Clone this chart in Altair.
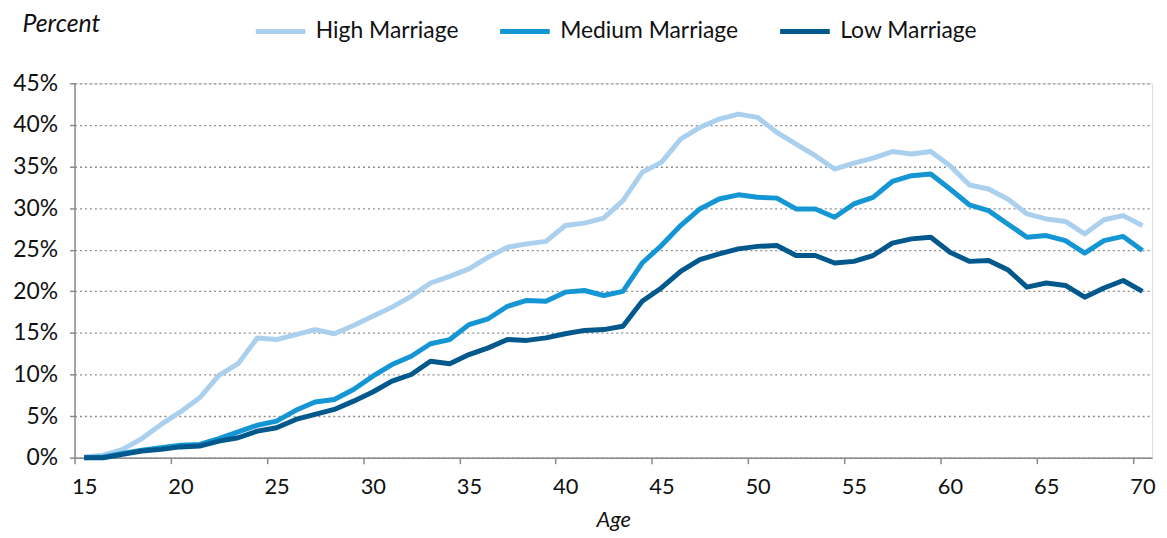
import altair as alt
import pandas as pd

ages = list(range(15, 71))
series_names = ["High Marriage", "Medium Marriage", "Low Marriage"]
series_colors = ["#abd0ee", "#1596d4", "#00588c"]

high = [0.1, 0.3, 1.0, 2.3, 4.0, 5.5, 7.2, 9.9, 11.3, 14.4,
        14.2, 14.8, 15.4, 14.9, 15.9, 17.0, 18.1, 19.4, 21.0, 21.8,
        22.7, 24.1, 25.3, 25.7, 26.0, 27.9, 28.2, 28.8, 30.9, 34.3,
        35.5, 38.3, 39.7, 40.7, 41.3, 40.9, 39.1, 37.7, 36.3, 34.7,
        35.4, 36.0, 36.8, 36.5, 36.8, 35.1, 32.8, 32.3, 31.1, 29.3,
        28.7, 28.4, 26.9, 28.6, 29.1, 27.9]
medium = [0.0, 0.1, 0.5, 0.9, 1.2, 1.5, 1.6, 2.3, 3.1, 3.9,
          4.4, 5.7, 6.7, 7.0, 8.2, 9.8, 11.2, 12.2, 13.7, 14.2,
          16.0, 16.7, 18.2, 18.9, 18.8, 19.9, 20.1, 19.5, 20.0, 23.4,
          25.5, 27.9, 29.9, 31.1, 31.6, 31.3, 31.2, 29.9, 29.9, 28.9,
          30.5, 31.3, 33.2, 33.9, 34.1, 32.3, 30.4, 29.7, 28.1, 26.5,
          26.7, 26.1, 24.6, 26.1, 26.6, 24.9]
low = [0.0, 0.0, 0.4, 0.8, 1.0, 1.3, 1.4, 2.0, 2.4, 3.2,
       3.6, 4.6, 5.2, 5.8, 6.8, 7.9, 9.2, 10.0, 11.6, 11.3,
       12.4, 13.2, 14.2, 14.1, 14.4, 14.9, 15.3, 15.4, 15.8, 18.8,
       20.4, 22.4, 23.8, 24.5, 25.1, 25.4, 25.5, 24.3, 24.3, 23.4,
       23.6, 24.3, 25.8, 26.3, 26.5, 24.7, 23.6, 23.7, 22.6, 20.5,
       21.0, 20.7, 19.3, 20.4, 21.3, 20.0]

x_tick_values = [14.5, 19.5, 24.5, 29.5, 34.5, 39.5, 44.5, 49.5, 54.5, 59.5, 64.5, 69.5]
y_tick_values = [0, 5, 10, 15, 20, 25, 30, 35, 40, 45]

rows = []
for name, vals in zip(series_names, [high, medium, low]):
    for a, v in zip(ages, vals):
        rows.append({"Age": a, "Value": v, "Series": name})
df = pd.DataFrame(rows)

W = 1085
H = 377
FONT = "Lato"
AXIS_GRAY = "#8a8a8a"
TXT = "#111111"

color = alt.Color(
    "Series:N",
    scale=alt.Scale(domain=series_names, range=series_colors),
    legend=alt.Legend(
        title=None,
        orient="none",
        direction="horizontal",
        legendX=180,
        legendY=-80,
        symbolType="stroke",
        symbolSize=2500,
        symbolStrokeWidth=5,
        labelFont=FONT,
        labelFontSize=23,
        labelColor=TXT,
        labelOffset=8,
        labelLimit=400,
        columnPadding=31,
    ),
)

x = alt.X(
    "Age:Q",
    scale=alt.Scale(domain=[14.5, 70.5], nice=False, zero=False),
    axis=alt.Axis(
        values=x_tick_values,
        labelExpr="format(datum.value + 0.5, 'd')",
        labelOffset=9.7,
        labelFlush=False,
        labelOverlap=False,
        tickSize=6,
        tickColor=AXIS_GRAY,
        tickWidth=1.5,
        domainColor=AXIS_GRAY,
        domainWidth=1.5,
        grid=False,
        labelFont=FONT,
        labelFontSize=22,
        labelColor=TXT,
        labelPadding=13,
        title="Age",
        titleFont=FONT,
        titleFontSize=22,
        titleFontStyle="italic",
        titleFontWeight="normal",
        titleColor=TXT,
        titlePadding=12,
    ),
)

y = alt.Y(
    "Value:Q",
    scale=alt.Scale(domain=[0, 45], nice=False),
    axis=alt.Axis(
        values=y_tick_values,
        labelExpr="datum.value + '%'",
        tickSize=5,
        tickColor=AXIS_GRAY,
        tickWidth=1.5,
        domainColor=AXIS_GRAY,
        domainWidth=1.5,
        grid=True,
        gridColor="#8c8c8c",
        gridDash=[2, 3],
        gridWidth=1.3,
        labelFont=FONT,
        labelFontSize=23,
        labelColor=TXT,
        labelPadding=12,
        title="Percent",
        titleAngle=0,
        titleX=-53,
        titleY=-52,
        titleAlign="left",
        titleBaseline="alphabetic",
        titleFont=FONT,
        titleFontSize=25,
        titleFontStyle="italic",
        titleFontWeight="normal",
        titleColor=TXT,
    ),
)

layers = []
for name in series_names:
    layers.append(
        alt.Chart(df)
        .transform_filter(alt.datum.Series == name)
        .mark_line(strokeWidth=5, strokeJoin="round")
        .encode(x=x, y=y, color=color)
    )

chart = (
    alt.layer(*layers)
    .properties(
        width=W,
        height=H,
        autosize=alt.AutoSizeParams(type="none"),
        padding={"left": 67, "top": 74, "right": 7, "bottom": 78},
    )
    .configure_view(stroke=None)
    .configure(background="white")
)

chart.save("out.html", embed_options={"renderer": "svg", "actions": False})
